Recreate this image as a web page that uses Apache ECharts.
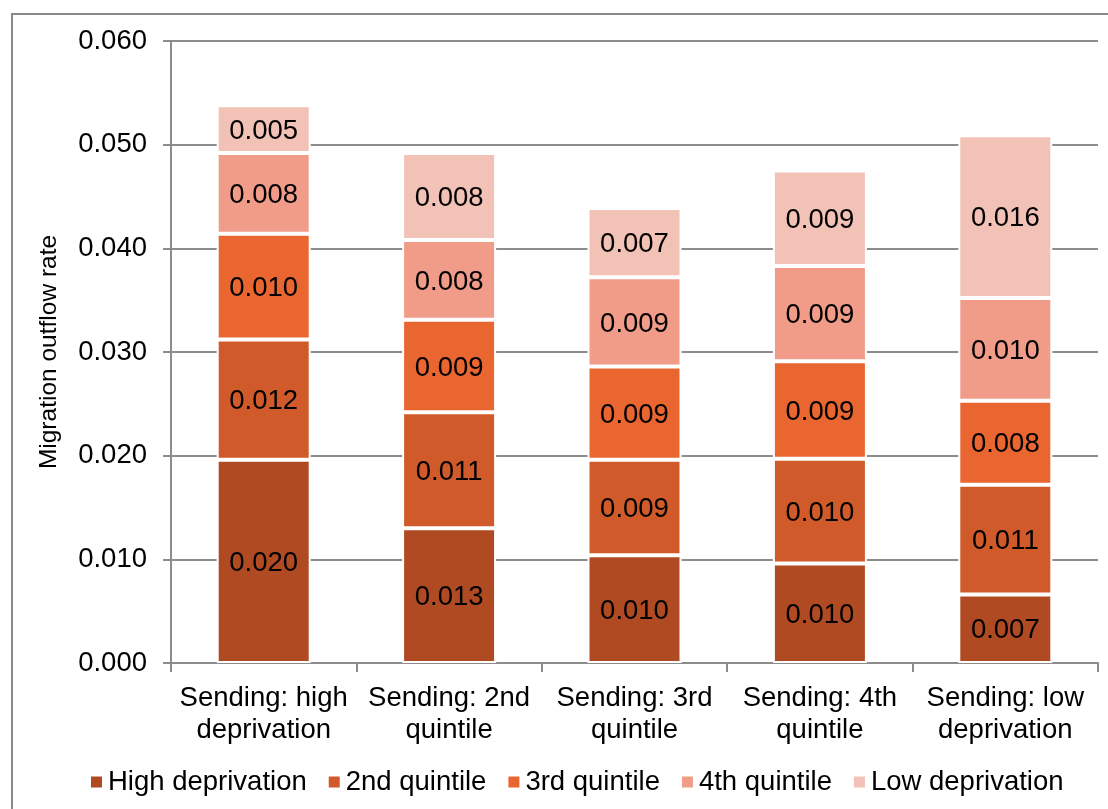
<!DOCTYPE html>
<html>
<head>
<meta charset="utf-8">
<script src="https://cdn.jsdelivr.net/npm/echarts@6/dist/echarts.min.js"></script>
<style>
html,body{margin:0;padding:0;background:#fff;}
#chart{width:1108px;height:809px;}
</style>
</head>
<body>
<div id="chart"></div>
<script>
const categories = ['Sending: high\ndeprivation', 'Sending: 2nd\nquintile', 'Sending: 3rd\nquintile', 'Sending: 4th\nquintile', 'Sending: low\ndeprivation'];
const seriesNames = ['High deprivation', '2nd quintile', '3rd quintile', '4th quintile', 'Low deprivation'];
const highDeprivation = [0.0196, 0.0130, 0.0104, 0.0096, 0.0066];
const quintile2 = [0.0116, 0.0112, 0.0092, 0.0101, 0.0106];
const quintile3 = [0.0102, 0.0089, 0.0090, 0.0094, 0.0081];
const quintile4 = [0.0078, 0.0077, 0.0086, 0.0092, 0.0099];
const lowDeprivation = [0.0046, 0.0084, 0.0067, 0.0092, 0.0157];
const yTicks = [0, 0.06, 0.01];

const colors = ['#B04A22', '#D05A29', '#EA6630', '#F09C88', '#F3C2B6'];
const allData = [highDeprivation, quintile2, quintile3, quintile4, lowDeprivation];
const FONT = 'Liberation Sans, Arial, sans-serif';
const FS = 27.5;

const chart = echarts.init(document.getElementById('chart'));
chart.setOption({
  animation: false,
  textStyle: { fontFamily: FONT },
  graphic: [{
    type: 'rect',
    shape: { x: 12, y: 14, width: 1200, height: 900 },
    style: { fill: 'none', stroke: '#898989', lineWidth: 2 },
    z: 0
  }],
  grid: { left: 171, right: 10, top: 41, bottom: 146, containLabel: false },
  legend: {
    data: seriesNames,
    left: 84,
    top: 763,
    icon: 'rect',
    itemWidth: 13,
    itemHeight: 13,
    itemGap: 20,
    textStyle: { fontSize: FS, color: '#000', fontFamily: FONT }
  },
  xAxis: {
    type: 'category',
    data: categories,
    axisLine: { lineStyle: { color: '#8c8c8c', width: 2 } },
    axisTick: { show: true, length: 9, lineStyle: { color: '#8c8c8c', width: 2 } },
    axisLabel: { color: '#000', fontSize: FS, lineHeight: 32, margin: 19, fontFamily: FONT, interval: 0 }
  },
  yAxis: {
    type: 'value',
    min: yTicks[0],
    max: yTicks[1],
    interval: yTicks[2],
    name: 'Migration outflow rate',
    nameLocation: 'middle',
    nameRotate: 90,
    nameGap: 109,
    nameTextStyle: { color: '#000', fontSize: 24.5, fontFamily: FONT },
    axisLine: { show: true, lineStyle: { color: '#8c8c8c', width: 2 } },
    axisTick: { show: true, length: 8, lineStyle: { color: '#8c8c8c', width: 2 } },
    splitLine: { show: true, lineStyle: { color: '#8c8c8c', width: 2 } },
    axisLabel: { color: '#000', fontSize: FS, margin: 24, fontFamily: FONT, formatter: v => v.toFixed(3) }
  },
  series: allData.map((d, i) => ({
    name: seriesNames[i],
    type: 'bar',
    stack: 'total',
    data: d,
    barWidth: 94,
    itemStyle: { color: colors[i], borderColor: '#fff', borderWidth: 2 },
    label: {
      show: true,
      position: 'inside',
      offset: [0, 2],
      color: '#000',
      fontSize: FS,
      fontFamily: FONT,
      formatter: p => p.value.toFixed(3)
    }
  }))
});
</script>
</body>
</html>
